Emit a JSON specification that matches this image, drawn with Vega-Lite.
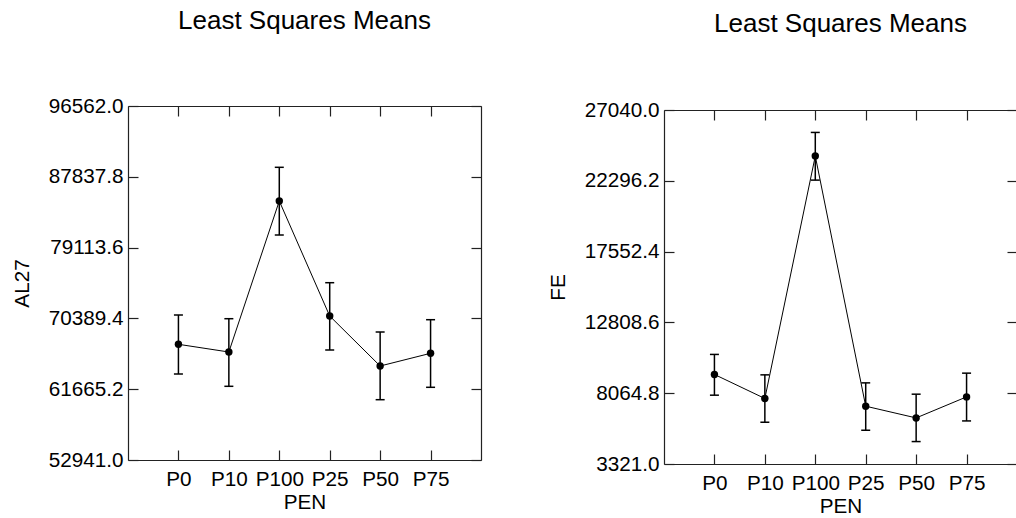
{
  "$schema": "https://vega.github.io/schema/vega-lite/v6.json",
  "background": "white",
  "padding": {"left": 11, "top": 7, "right": 0, "bottom": 0},
  "config": {
    "font": "Liberation Sans",
    "view": {"stroke": null},
    "axis": {
      "labelFont": "Liberation Sans", "titleFont": "Liberation Sans",
      "labelFontSize": 20.7, "titleFontSize": 20.7, "titleFontWeight": "normal",
      "labelColor": "black", "titleColor": "black",
      "tickColor": "#222", "domainColor": "#222",
      "tickSize": -10, "grid": false, "domainWidth": 1.2, "tickWidth": 1.2,
      "labelOverlap": false, "labelFlush": false
    },
    "title": {"font": "Liberation Sans", "fontSize": 26, "fontWeight": "normal", "color": "black", "anchor": "middle"}
  },
  "datasets": {
    "al27": [
      {"PEN": "P0", "mean": 67198, "lo": 63538, "hi": 70808},
      {"PEN": "P10", "mean": 66249, "lo": 62022, "hi": 70352},
      {"PEN": "P100", "mean": 84856, "lo": 80666, "hi": 89008},
      {"PEN": "P25", "mean": 70685, "lo": 66496, "hi": 74788},
      {"PEN": "P50", "mean": 64524, "lo": 60372, "hi": 68713},
      {"PEN": "P75", "mean": 66088, "lo": 61899, "hi": 70229}
    ],
    "fe": [
      {"PEN": "P0", "mean": 9321, "lo": 7932, "hi": 10663},
      {"PEN": "P10", "mean": 7710, "lo": 6120, "hi": 9294},
      {"PEN": "P100", "mean": 23953, "lo": 22342, "hi": 25537},
      {"PEN": "P25", "mean": 7194, "lo": 5583, "hi": 8757},
      {"PEN": "P50", "mean": 6408, "lo": 4824, "hi": 7999},
      {"PEN": "P75", "mean": 7818, "lo": 6207, "hi": 9408}
    ],
    "none": []
  },
  "spacing": 65,
  "hconcat": [
    {
      "spacing": 0,
      "vconcat": [
        {"width": 1, "height": 1, "data": {"name": "none"}, "mark": {"type": "text"}, "encoding": {}},
        {
          "width": 353, "height": 354,
          "title": {"text": "Least Squares Means", "offset": 61},
          "data": {"name": "al27"},
          "resolve": {"axis": {"x": "independent", "y": "independent"}},
          "layer": [
            {
              "mark": {"type": "rule", "color": "black", "strokeWidth": 1.5},
              "encoding": {
                "x": {"field": "PEN", "type": "ordinal", "scale": {"type": "point", "padding": 1, "domain": ["P0", "P10", "P100", "P25", "P50", "P75"]}, "axis": {"orient": "bottom", "title": "PEN", "labelAngle": 0, "labelPadding": 19, "titlePadding": 4}},
                "y": {"field": "lo", "type": "quantitative", "scale": {"domain": [52941, 96562], "nice": false, "zero": false}, "axis": {"orient": "left", "title": "AL27", "values": [52941, 61665.2, 70389.4, 79113.6, 87837.8, 96562], "format": ".1f", "labelPadding": 15, "titlePadding": 16}},
                "y2": {"field": "hi"}
              }
            },
            {
              "mark": {"type": "tick", "color": "black", "thickness": 1.5, "size": 9, "orient": "horizontal", "opacity": 1},
              "encoding": {
                "x": {"field": "PEN", "type": "ordinal", "axis": {"orient": "top", "labels": false, "title": null}},
                "y": {"field": "lo", "type": "quantitative", "axis": {"orient": "right", "labels": false, "title": null, "values": [52941, 61665.2, 70389.4, 79113.6, 87837.8, 96562]}}
              }
            },
            {
              "mark": {"type": "tick", "color": "black", "thickness": 1.5, "size": 9, "orient": "horizontal", "opacity": 1},
              "encoding": {
                "x": {"field": "PEN", "type": "ordinal", "axis": null},
                "y": {"field": "hi", "type": "quantitative", "axis": null}
              }
            },
            {
              "mark": {"type": "line", "color": "black", "strokeWidth": 1},
              "encoding": {
                "x": {"field": "PEN", "type": "ordinal", "axis": null},
                "y": {"field": "mean", "type": "quantitative", "axis": null}
              }
            },
            {
              "mark": {"type": "point", "filled": true, "color": "black", "opacity": 1, "size": 55},
              "encoding": {
                "x": {"field": "PEN", "type": "ordinal", "axis": null},
                "y": {"field": "mean", "type": "quantitative", "axis": null}
              }
            }
          ]
        }
      ]
    },
    {
      "spacing": 0,
      "vconcat": [
        {"width": 1, "height": 4, "data": {"name": "none"}, "mark": {"type": "text"}, "encoding": {}},
        {
          "width": 353, "height": 354,
          "title": {"text": "Least Squares Means", "offset": 62},
          "data": {"name": "fe"},
          "resolve": {"axis": {"x": "independent", "y": "independent"}},
          "layer": [
            {
              "mark": {"type": "rule", "color": "black", "strokeWidth": 1.5},
              "encoding": {
                "x": {"field": "PEN", "type": "ordinal", "scale": {"type": "point", "padding": 1, "domain": ["P0", "P10", "P100", "P25", "P50", "P75"]}, "axis": {"orient": "bottom", "title": "PEN", "labelAngle": 0, "labelPadding": 19, "titlePadding": 4}},
                "y": {"field": "lo", "type": "quantitative", "scale": {"domain": [3321, 27040], "nice": false, "zero": false}, "axis": {"orient": "left", "title": "FE", "values": [3321, 8064.8, 12808.6, 17552.4, 22296.2, 27040], "format": ".1f", "labelPadding": 15, "titlePadding": 16}},
                "y2": {"field": "hi"}
              }
            },
            {
              "mark": {"type": "tick", "color": "black", "thickness": 1.5, "size": 9, "orient": "horizontal", "opacity": 1},
              "encoding": {
                "x": {"field": "PEN", "type": "ordinal", "axis": {"orient": "top", "labels": false, "title": null}},
                "y": {"field": "lo", "type": "quantitative", "axis": {"orient": "right", "labels": false, "title": null, "values": [3321, 8064.8, 12808.6, 17552.4, 22296.2, 27040]}}
              }
            },
            {
              "mark": {"type": "tick", "color": "black", "thickness": 1.5, "size": 9, "orient": "horizontal", "opacity": 1},
              "encoding": {
                "x": {"field": "PEN", "type": "ordinal", "axis": null},
                "y": {"field": "hi", "type": "quantitative", "axis": null}
              }
            },
            {
              "mark": {"type": "line", "color": "black", "strokeWidth": 1},
              "encoding": {
                "x": {"field": "PEN", "type": "ordinal", "axis": null},
                "y": {"field": "mean", "type": "quantitative", "axis": null}
              }
            },
            {
              "mark": {"type": "point", "filled": true, "color": "black", "opacity": 1, "size": 55},
              "encoding": {
                "x": {"field": "PEN", "type": "ordinal", "axis": null},
                "y": {"field": "mean", "type": "quantitative", "axis": null}
              }
            }
          ]
        }
      ]
    }
  ]
}
